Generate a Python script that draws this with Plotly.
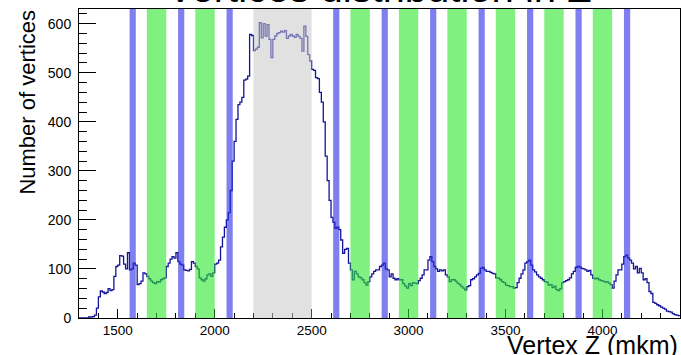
import numpy as np
import plotly.graph_objects as go

# ---------------- data ----------------
bin_start = 1300
bin_width = 10
counts = [
    0, 0, 0, 0, 0, 2, 2, 3, 6, 20,            # 1300-1390
    43, 55, 53, 50, 52, 60, 56, 58, 85, 105,  # 1400-1490
    108, 127, 126, 110, 100, 133, 98, 100, 112, 108,  # 1500-1590
    68, 70, 75, 92, 90, 85, 80, 75, 72, 70,   # 1600-1690
    74, 73, 78, 80, 82, 105, 112, 120, 125, 122,  # 1700-1790
    133, 115, 110, 108, 98, 97, 96, 99, 115, 112,  # 1800-1890
    105, 100, 82, 78, 75, 80, 88, 90, 85, 92,  # 1900-1990
    110, 112, 118, 145, 165, 185, 200, 215, 260, 320,  # 2000-2090
    360, 405, 435, 440, 450, 485, 487, 493, 578, 576,  # 2100-2190
    545, 548, 552, 602, 571, 600, 575, 598, 568, 531,  # 2200-2290
    568, 575, 580, 582, 585, 583, 586, 570, 575, 578,  # 2300-2390
    575, 572, 578, 574, 570, 544, 595, 574, 537, 524,  # 2400-2490
    507, 505, 490, 488, 460, 440, 400, 330, 280, 240,  # 2500-2590
    205, 195, 183, 185, 180, 159, 132, 140, 142, 112,  # 2600-2690
    98, 78, 95, 90, 84, 82, 78, 72, 67, 74,   # 2700-2790
    84, 90, 95, 98, 98, 105, 108, 112, 100, 98,  # 2800-2890
    84, 90, 81, 78, 80, 78, 78, 70, 65, 61,   # 2900-2990
    70, 66, 72, 71, 70, 76, 81, 88, 98, 98,   # 3000-3090
    118, 125, 115, 105, 100, 95, 98, 96, 98, 88,  # 3100-3190
    84, 74, 78, 78, 75, 71, 68, 64, 61, 57,   # 3200-3290
    64, 66, 78, 80, 84, 88, 91, 101, 103, 98,  # 3300-3390
    95, 95, 93, 91, 90, 82, 81, 78, 74, 72,   # 3400-3490
    67, 66, 64, 64, 61, 62, 72, 81, 90, 98,   # 3500-3590
    112, 115, 118, 108, 98, 94, 88, 84, 81, 78,  # 3600-3690
    74, 73, 67, 68, 62, 65, 58, 56, 60, 72,   # 3700-3790
    74, 76, 78, 82, 90, 95, 103, 105, 104, 101,  # 3800-3890
    100, 98, 95, 97, 88, 81, 80, 81, 78, 76,  # 3900-3990
    75, 73, 74, 71, 68, 61, 75, 88, 98, 98,   # 4000-4090
    110, 125, 128, 122, 118, 112, 100, 105, 92, 101,  # 4100-4190
    92, 78, 80, 72, 54, 50, 32, 30, 27, 25,   # 4200-4290
    22, 20, 18, 14, 13, 12, 9, 7, 6, 5,       # 4300-4390
]

blue_lo = [1561, 1811, 2061, 2611, 2861, 3111, 3361, 3611, 3861, 4111]
blue_hi = [1593, 1843, 2093, 2643, 2893, 3143, 3393, 3643, 3893, 4143]
green_lo = [1650, 1900, 2700, 2950, 3200, 3450, 3700, 3950]
green_hi = [1750, 2000, 2800, 3050, 3300, 3550, 3800, 4050]
gray_lo = [2200]
gray_hi = [2500]

title_text = "Vertices distribution in Z"
x_title = "Vertex Z (mkm)"
y_title = "Number of vertices"

# ---------------- figure ----------------
edges = bin_start + bin_width * np.arange(len(counts) + 1)
ystep = list(counts) + [counts[-1]]

fig = go.Figure()
fig.add_trace(go.Scatter(
    x=edges, y=ystep, mode="lines", line_shape="hv",
    line=dict(color="#14149a", width=1.3), hoverinfo="skip", showlegend=False,
))

shapes = []
def band(lo, hi, color, op):
    for a, b in zip(lo, hi):
        shapes.append(dict(type="rect", xref="x", yref="paper", x0=a, x1=b, y0=0, y1=1,
                           fillcolor=color, opacity=op, line=dict(width=0), layer="above"))

band(gray_lo, gray_hi, "#c8c8c8", 0.55)
band(green_lo, green_hi, "#2be62b", 0.6)
band(blue_lo, blue_hi, "#2a2ae6", 0.6)

font_family = "Liberation Sans, Arial, Helvetica, sans-serif"

fig.update_layout(
    width=681, height=355,
    margin=dict(l=79, r=1, t=9, b=37, pad=0),
    paper_bgcolor="white", plot_bgcolor="white",
    font=dict(family=font_family, color="black", size=13),
    shapes=shapes,
    showlegend=False,
)

fig.update_xaxes(
    range=[1300, 4400], showgrid=False, zeroline=False,
    showline=True, linecolor="black", linewidth=1, mirror=True,
    ticks="inside", ticklen=9, tickcolor="black", dtick=500, tick0=0,
    minor=dict(ticks="inside", ticklen=5, dtick=100, tick0=0, tickcolor="black"),
    tickfont=dict(size=13.5, family=font_family), ticklabelstandoff=0,
)
fig.update_yaxes(
    range=[0, 630], showgrid=False, zeroline=False,
    showline=True, linecolor="black", linewidth=1, mirror=True,
    ticks="inside", ticklen=17, tickcolor="black", dtick=100, tick0=0,
    minor=dict(ticks="inside", ticklen=8, dtick=20, tick0=0, tickcolor="black"),
    tickfont=dict(size=14, family=font_family), ticklabelstandoff=4,
)

fig.add_annotation(text=x_title, xref="paper", yref="paper", x=1.0, y=-0.138,
                   xanchor="right", yanchor="bottom", showarrow=False,
                   font=dict(size=25, family=font_family, color="black"))
fig.add_annotation(text=y_title, xref="paper", yref="paper", x=-0.085, y=0.70,
                   xanchor="center", yanchor="middle", textangle=-90, showarrow=False,
                   font=dict(size=22, family=font_family, color="black"))
fig.add_annotation(text=title_text, xref="paper", yref="paper", x=0.5, y=1.068,
                   xanchor="center", yanchor="middle", showarrow=False,
                   font=dict(size=40, family=font_family, color="black"))

fig.write_html("out.html")
